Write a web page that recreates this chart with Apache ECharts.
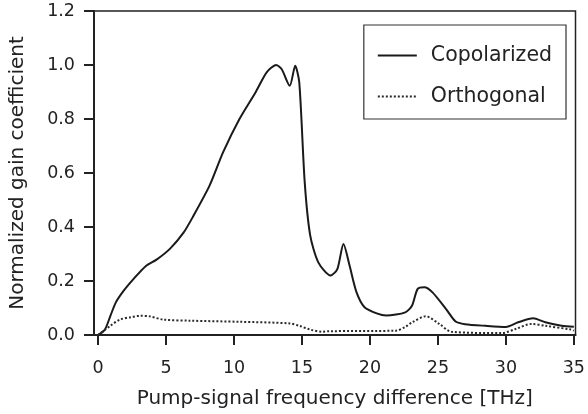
<!DOCTYPE html>
<html>
<head>
<meta charset="utf-8">
<script src="https://cdn.jsdelivr.net/npm/echarts@6/dist/echarts.min.js"></script>
<style>
  html, body { margin: 0; padding: 0; background: #fff; }
  #myChart { width: 588px; height: 414px; }
</style>
</head>
<body>
<div id="myChart"></div>
<script>
// frequency difference [THz] and normalized gain
var copolarizedFreq = [0, 0.5, 0.9, 1.3, 1.9, 2.6, 3.5, 4.3, 5.3, 6.3, 7.0, 8.2, 9.2, 10.4, 11.6, 12.4, 13.1, 13.5, 14.1, 14.5, 14.8, 15.2, 15.6, 16.2, 17.1, 17.6, 18.05, 18.5, 19.0, 19.6, 20.5, 21.2, 22.6, 23.1, 23.5, 24.0, 24.6, 25.6, 26.3, 27.0, 28.5, 30.0, 30.9, 32.0, 32.9, 34.1, 35.0];
var copolarizedGain = [0, 0.02, 0.07, 0.12, 0.165, 0.207, 0.255, 0.279, 0.32, 0.38, 0.44, 0.553, 0.677, 0.8, 0.9, 0.973, 1.0, 0.985, 0.923, 0.997, 0.936, 0.566, 0.37, 0.269, 0.22, 0.244, 0.337, 0.257, 0.16, 0.103, 0.08, 0.072, 0.084, 0.109, 0.17, 0.177, 0.158, 0.096, 0.05, 0.04, 0.034, 0.03, 0.047, 0.062, 0.047, 0.034, 0.031];
var orthogonalFreq = [0, 0.9, 1.6, 2.4, 3.1, 3.8, 4.8, 6.8, 10.4, 14.1, 14.8, 15.6, 16.5, 17.0, 21.9, 22.6, 23.1, 24.1, 25.1, 26.0, 29.7, 30.7, 31.9, 32.9, 34.8, 35.0];
var orthogonalGain = [0, 0.034, 0.057, 0.066, 0.071, 0.069, 0.057, 0.053, 0.049, 0.043, 0.034, 0.02, 0.012, 0.014, 0.016, 0.03, 0.047, 0.069, 0.041, 0.012, 0.007, 0.022, 0.041, 0.034, 0.02, 0.016];
var xTicks = [0, 5, 10, 15, 20, 25, 30, 35];
var seriesNames = ["Copolarized", "Orthogonal"];

function pairs(xs, ys) {
  return xs.map(function (x, i) { return [x, ys[i]]; });
}

var font = "DejaVu Sans";
var ink = "#222";
var myChart = echarts.init(document.getElementById("myChart"));
myChart.setOption({
  animation: false,
  backgroundColor: "#fff",
  grid: {
    left: 93,
    right: 11,
    top: 11,
    bottom: 78,
    show: true,
    borderColor: ink,
    borderWidth: 1.5,
  },
  legend: {
    data: seriesNames,
    orient: "vertical",
    right: 22,
    top: 25,
    padding: [20, 14, 12, 13],
    itemGap: 20,
    itemWidth: 39,
    itemHeight: 20,
    borderColor: "#333",
    borderWidth: 1.2,
    // hide the circle ECharts puts on line legend icons
    itemStyle: { color: "rgba(0,0,0,0)", borderWidth: 0, opacity: 0 },
    textStyle: { fontFamily: font, fontSize: 20.5, color: ink, padding: [0, 0, 0, 9] },
  },
  xAxis: {
    type: "value",
    min: -0.3,
    max: 35.12,
    name: "Pump-signal frequency difference [THz]",
    nameLocation: "middle",
    nameGap: 54,
    nameTextStyle: { fontFamily: font, fontSize: 20, color: ink },
    axisLine: { onZero: false, lineStyle: { color: ink, width: 2 } },
    axisTick: { customValues: xTicks, length: 10, lineStyle: { color: ink, width: 2 } },
    axisLabel: { customValues: xTicks, margin: 24, fontFamily: font, fontSize: 17.5, color: ink },
    splitLine: { show: false },
  },
  yAxis: {
    type: "value",
    min: 0,
    max: 1.2,
    interval: 0.2,
    name: "Normalized gain coefficient",
    nameLocation: "middle",
    nameGap: 66,
    nameTextStyle: { fontFamily: font, fontSize: 20, color: ink },
    axisLine: { show: true, onZero: false, lineStyle: { color: ink, width: 2 } },
    axisTick: { show: true, length: 10, lineStyle: { color: ink, width: 2 } },
    axisLabel: {
      margin: 19,
      fontFamily: font,
      fontSize: 17.5,
      color: ink,
      formatter: function (v) { return v.toFixed(1); },
    },
    splitLine: { show: false },
  },
  series: [
    {
      name: seriesNames[0],
      type: "line",
      symbol: "none",
      smooth: 0.25,
      data: pairs(copolarizedFreq, copolarizedGain),
      lineStyle: { color: "#1a1a1a", width: 2 },
      itemStyle: { color: "#1a1a1a" },
    },
    {
      name: seriesNames[1],
      type: "line",
      symbol: "none",
      smooth: 0.3,
      data: pairs(orthogonalFreq, orthogonalGain),
      lineStyle: { color: "#2a2a2a", width: 2, type: [2, 2] },
      itemStyle: { color: "#2a2a2a" },
    },
  ],
});
</script>
</body>
</html>
